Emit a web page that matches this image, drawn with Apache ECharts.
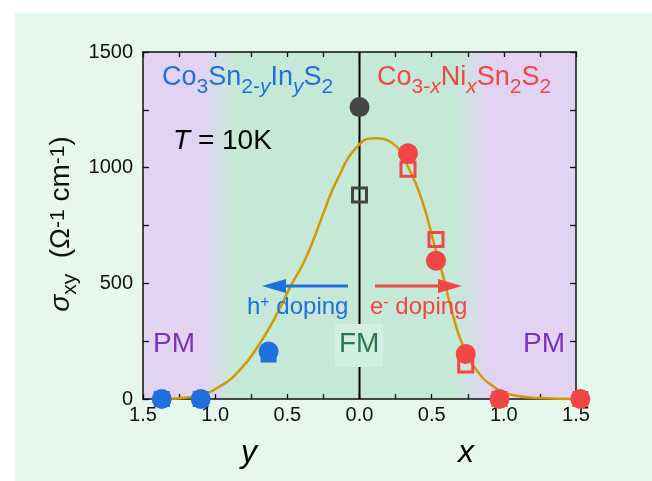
<!DOCTYPE html>
<html><head><meta charset="utf-8">
<script src="https://cdn.jsdelivr.net/npm/echarts@6/dist/echarts.min.js"></script>
<style>
html,body{margin:0;padding:0;background:#fff;width:652px;height:481px;overflow:hidden;}
#bg{position:absolute;left:15px;top:13px;right:0;bottom:0;background:#e6f8ee;}
#c{position:absolute;left:0;top:0;width:652px;height:481px;}
</style></head><body><div id="bg"></div><div id="c"></div>
<script>
// ---- data ----
const xTickLabels = ['1.5','1.0','0.5','0.0','0.5','1.0','1.5'];
const yTickValues = [0, 500, 1000, 1500];
// fitted curve (signed axis: hole side negative)
const curveX = [-1.38,-1.15,-0.99,-0.83,-0.69,-0.57,-0.48,-0.39,-0.32,-0.25,-0.155,-0.016,0.104,0.23,0.347,0.44,0.51,0.58,0.65,0.72,0.81,0.93,1.06,1.25,1.53];
const curveV = [0,10,46,125,241,370,485,586,687,803,947,1091,1127,1105,990,846,687,529,356,226,125,53,17,4,0];
// Co3Sn2-yInyS2 (y, plotted at -y)
const blueY = [1.37, 1.10, 0.63];
const blueCircleV = [0, 0, 205];
const blueSquareV = [0, 0, 192];
// Co3-xNixSn2S2
const redCircleX = [0.336, 0.53, 0.736, 0.97, 1.53];
const redCircleV = [1062, 598, 195, 0, 0];
const redOpenSqX = [0.336, 0.53, 0.736];
const redOpenSqV = [993, 690, 147];
const redFillSqX = [0.97, 1.53];
const redFillSqV = [0, 0];
// parent compound Co3Sn2S2
const parentCircleV = [1262];
const parentSquareV = [882];

// ---- styles ----
const BLUE = '#1f6fdc', RED = '#f04646', DARK = '#454545', GOLD = '#cf9a04';
const FONT = '"Liberation Sans", Arial, sans-serif';

const chart = echarts.init(document.getElementById('c'), null, {renderer:'canvas'});

function pairs(xs, vs, sign){ return xs.map((x,i)=>[sign*x, vs[i]]); }

function richSet(color, main, sub, subPad){
  return {
    m:{fontSize:main, fontFamily:FONT, fill:color, verticalAlign:'top'},
    mi:{fontSize:main, fontFamily:FONT, fontStyle:'italic', fill:color, verticalAlign:'top'},
    s:{fontSize:sub, fontFamily:FONT, fill:color, verticalAlign:'top', padding:[subPad,0,0,0]},
    si:{fontSize:sub, fontFamily:FONT, fontStyle:'italic', fill:color, verticalAlign:'top', padding:[subPad,0,0,0]},
    p:{fontSize:sub, fontFamily:FONT, fill:color, verticalAlign:'top'}
  };
}
function txt(x, y, text, rich, align){
  return {type:'text', x:x, y:y, z:50, style:{text:text, rich:rich, align:align||'left', verticalAlign:'top'}};
}

const option = {
  backgroundColor:'transparent',
  animation:false,
  grid:{left:143, right:76, top:52, bottom:82, show:true, borderWidth:0,
    backgroundColor:{type:'linear', x:0, y:0, x2:1, y2:0, colorStops:[
      {offset:0, color:'#e2d3f2'},{offset:0.14, color:'#e2d3f2'},{offset:0.21, color:'#c6e9d7'},
      {offset:0.72, color:'#c6e9d7'},{offset:0.80, color:'#e2d3f2'},{offset:1, color:'#e2d3f2'}]}},
  xAxis:[{
    type:'value', min:-1.5, max:1.5, interval:0.5, position:'bottom',
    axisLine:{show:true, onZero:false, lineStyle:{color:'#111', width:1.5}},
    axisTick:{show:true, inside:true, length:5, lineStyle:{color:'#111', width:1.3}},
    minorTick:{show:true, splitNumber:2, length:5, lineStyle:{color:'#111', width:1.3}},
    splitLine:{show:false},
    axisLabel:{margin:6, color:'#111', fontSize:20, fontFamily:FONT, showMinLabel:true, showMaxLabel:true,
      formatter:(v)=>xTickLabels[Math.round((v+1.5)/0.5)]}
  },{
    type:'value', min:-1.5, max:1.5, interval:0.5, position:'top',
    axisLine:{show:true, onZero:false, lineStyle:{color:'#111', width:1.5}},
    axisTick:{show:true, inside:true, length:5, lineStyle:{color:'#111', width:1.3}},
    minorTick:{show:true, splitNumber:2, length:5, lineStyle:{color:'#111', width:1.3}},
    splitLine:{show:false}, axisLabel:{show:false}
  }],
  yAxis:[{
    type:'value', min:0, max:1500, interval:500, position:'left',
    axisLine:{show:true, onZero:false, lineStyle:{color:'#111', width:1.5}},
    axisTick:{show:true, inside:true, length:6, lineStyle:{color:'#111', width:1.3}},
    minorTick:{show:true, splitNumber:2, length:6, lineStyle:{color:'#111', width:1.3}},
    splitLine:{show:false},
    axisLabel:{margin:10, color:'#111', fontSize:20, fontFamily:FONT, showMinLabel:true, showMaxLabel:true,
      formatter:(v)=>yTickValues.indexOf(v)>=0 ? String(v) : ''}
  },{
    type:'value', min:0, max:1500, interval:500, position:'right',
    axisLine:{show:true, onZero:false, lineStyle:{color:'#111', width:1.5}},
    axisTick:{show:true, inside:true, length:6, lineStyle:{color:'#111', width:1.3}},
    minorTick:{show:true, splitNumber:2, length:6, lineStyle:{color:'#111', width:1.3}},
    splitLine:{show:false}, axisLabel:{show:false}
  }],
  series:[
    {type:'line', data:[[0,0],[0,1500]], symbol:'none', lineStyle:{color:'#000', width:2}, z:1, silent:true},
    {type:'line', data:pairs(curveX, curveV, 1), symbol:'none', smooth:0.5, clip:false,
      lineStyle:{color:GOLD, width:2.5}, z:3},
    {type:'scatter', data:pairs(blueY, blueSquareV, -1), symbol:'rect', symbolSize:16, itemStyle:{color:BLUE, opacity:1}, clip:false, z:4},
    {type:'scatter', data:pairs(blueY, blueCircleV, -1), symbol:'circle', symbolSize:20, itemStyle:{color:BLUE, opacity:1}, clip:false, z:4},
    {type:'scatter', data:pairs(redFillSqX, redFillSqV, 1), symbol:'rect', symbolSize:16, itemStyle:{color:RED, opacity:1}, clip:false, z:4},
    {type:'scatter', data:pairs(redCircleX, redCircleV, 1), symbol:'circle', symbolSize:20, itemStyle:{color:RED, opacity:1}, clip:false, z:4},
    {type:'scatter', data:pairs(redOpenSqX, redOpenSqV, 1), symbol:'rect', symbolSize:14, itemStyle:{color:'rgba(0,0,0,0)', borderColor:RED, borderWidth:3, opacity:1}, clip:false, z:5},
    {type:'scatter', data:parentCircleV.map(v=>[0,v]), symbol:'circle', symbolSize:20, itemStyle:{color:DARK, opacity:1}, z:4},
    {type:'scatter', data:parentSquareV.map(v=>[0,v]), symbol:'rect', symbolSize:14, itemStyle:{color:'rgba(0,0,0,0)', borderColor:DARK, borderWidth:3, opacity:1}, z:5}
  ],
  graphic:[
    txt(162, 64, '{m|Co}{s|3}{m|Sn}{s|2-}{si|y}{m|In}{si|y}{m|S}{s|2}', richSet(BLUE, 27, 21, 13)),
    txt(377, 64, '{m|Co}{s|3-}{si|x}{m|Ni}{si|x}{m|Sn}{s|2}{m|S}{s|2}', richSet(RED, 27, 21, 13)),
    txt(173, 127, '{mi|T}{m| = 10K}', richSet('#000', 28, 20, 0)),
    txt(247, 295, '{m|h}{p|+}{m| doping}', richSet(BLUE, 24, 16, 0)),
    txt(370, 295, '{m|e}{p|-}{m| doping}', richSet(RED, 24, 16, 0)),
    txt(153, 330, '{m|PM}', richSet('#7a32be', 28, 20, 0)),
    txt(523, 330, '{m|PM}', richSet('#7a32be', 28, 20, 0)),
    {type:'rect', x:335, y:324, z:49, shape:{width:48, height:43}, style:{fill:'#d0efe0'}},
    txt(339, 330, '{m|FM}', richSet('#2c7a4c', 28, 20, 0)),
    txt(249, 437, '{mi|y}', richSet('#000', 32, 20, 0), 'center'),
    txt(466, 437, '{mi|x}', richSet('#000', 32, 20, 0), 'center'),
    {type:'text', x:64, y:224, rotation:Math.PI/2, z:50,
      style:{text:'{mi|σ}{s|xy}{m|  (Ω}{p|-1}{m| cm}{p|-1}{m|)}', rich:richSet('#111', 28, 21, 12), align:'center', verticalAlign:'middle'}},
    // doping arrows
    {type:'line', z:50, shape:{x1:348, y1:286, x2:282, y2:286}, style:{stroke:BLUE, lineWidth:3}},
    {type:'polygon', z:50, shape:{points:[[262,286],[286,279],[286,293]]}, style:{fill:BLUE}},
    {type:'line', z:50, shape:{x1:375, y1:286, x2:442, y2:286}, style:{stroke:RED, lineWidth:3}},
    {type:'polygon', z:50, shape:{points:[[462,286],[438,279],[438,293]]}, style:{fill:RED}}
  ]
};
chart.setOption(option);
</script>
</body></html>
